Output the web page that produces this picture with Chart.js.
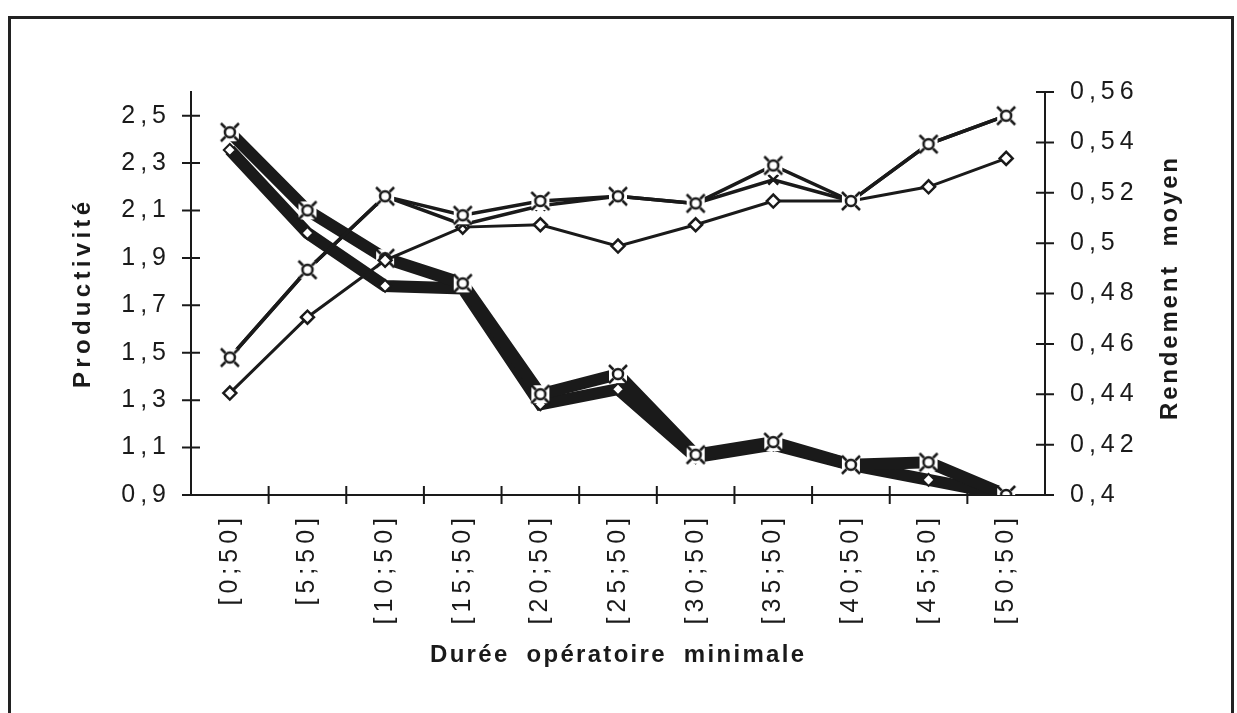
<!DOCTYPE html>
<html lang="fr">
<head>
<meta charset="utf-8">
<title>Productivité et rendement moyen</title>
<script src="https://cdn.jsdelivr.net/npm/chart.js@4.4.1/dist/chart.umd.min.js"></script>
<style>
    html, body { margin: 0; padding: 0; background: #fff; }
    .cadre { position: absolute; left: 8px; top: 16px; width: 1226px; height: 720px; border: 3px solid #222; box-sizing: border-box; }
    canvas { position: absolute; left: 0; top: 0; }
</style>
</head>
<body>
<div class="cadre"></div>
<canvas id="graphique" width="1237" height="713"></canvas>
<script>
// Données
const categories = ['[0;50]', '[5;50]', '[10;50]', '[15;50]', '[20;50]', '[25;50]', '[30;50]', '[35;50]', '[40;50]', '[45;50]', '[50;50]'];

// Productivité (axe de gauche)
const prodCercle  = [1.48, 1.85, 2.16, 2.08, 2.14, 2.16, 2.13, 2.29, 2.14, 2.38, 2.50];
const prodCroix   = [1.48, 1.85, 2.16, 2.04, 2.12, 2.16, 2.13, 2.23, 2.14, 2.38, 2.50];
const prodLosange = [1.33, 1.65, 1.89, 2.03, 2.04, 1.95, 2.04, 2.14, 2.14, 2.20, 2.32];

// Rendement moyen (axe de droite)
const rendCarre   = [0.544, 0.513, 0.494, 0.484, 0.440, 0.448, 0.416, 0.421, 0.412, 0.413, 0.400];
const rendLosange = [0.537, 0.504, 0.483, 0.482, 0.436, 0.442, 0.415, 0.420, 0.412, 0.406, 0.400];

const ticksProductivite = [0.9, 1.1, 1.3, 1.5, 1.7, 1.9, 2.1, 2.3, 2.5];
const ticksRendement = [0.4, 0.42, 0.44, 0.46, 0.48, 0.5, 0.52, 0.54, 0.56];

const noir = '#1a1a1a';
const police = '"Liberation Sans", Arial, Helvetica, sans-serif';

// marqueur "¤" (cercle + croix) sur fond blanc
function creerMarqueur() {
    const c = document.createElement('canvas');
    c.width = 24;
    c.height = 24;
    const g = c.getContext('2d');
    g.fillStyle = '#fff';
    g.fillRect(3, 3, 18, 18);
    g.strokeStyle = noir;
    g.lineWidth = 2.5;
    g.beginPath();
    g.arc(12, 12, 5, 0, Math.PI * 2);
    g.stroke();
    [[1, 1], [1, -1], [-1, 1], [-1, -1]].forEach(([dx, dy]) => {
        g.beginPath();
        g.moveTo(12 + dx * 4.5, 12 + dy * 4.5);
        g.lineTo(12 + dx * 9, 12 + dy * 9);
        g.stroke();
    });
    return c;
}
const marqueur = creerMarqueur();

function virgule(v) {
    return String(v).replace('.', ',');
}

function texteEspace(ctx, texte, x, y, angle, espacement, espaceMots) {
    ctx.save();
    ctx.translate(x, y);
    ctx.rotate(angle);
    ctx.letterSpacing = espacement + 'px';
    ctx.wordSpacing = espaceMots + 'px';
    ctx.textAlign = 'center';
    ctx.textBaseline = 'middle';
    ctx.fillText(texte, espacement / 2, 0);
    ctx.restore();
}

// petits traits qui traversent les axes + titres des axes
const habillage = {
    id: 'habillage',
    beforeDraw(chart) {
        chart.ctx.letterSpacing = '5px';
    },
    beforeDatasetsDraw(chart) {
        const ctx = chart.ctx;
        ctx.letterSpacing = '0px';
        const {x, y, y1} = chart.scales;
        ctx.save();
        ctx.strokeStyle = noir;
        ctx.lineWidth = 2;
        ctx.beginPath();
        y.ticks.forEach(t => {
            const py = y.getPixelForValue(t.value);
            ctx.moveTo(y.right - 9, py);
            ctx.lineTo(y.right + 9, py);
        });
        y1.ticks.forEach(t => {
            const py = y1.getPixelForValue(t.value);
            ctx.moveTo(y1.left - 9, py);
            ctx.lineTo(y1.left + 9, py);
        });
        const pas = (x.right - x.left) / categories.length;
        for (let i = 1; i < categories.length; i++) {
            const px = x.left + i * pas;
            ctx.moveTo(px, x.top - 9);
            ctx.lineTo(px, x.top + 9);
        }
        ctx.stroke();
        ctx.restore();
    },
    afterDraw(chart) {
        const ctx = chart.ctx;
        ctx.save();
        ctx.fillStyle = noir;
        ctx.font = 'bold 24px ' + police;
        texteEspace(ctx, 'Productivité', 83, 295, -Math.PI / 2, 4.3, 0);
        texteEspace(ctx, 'Rendement moyen', 1170, 289, -Math.PI / 2, 2.8, 8);
        texteEspace(ctx, 'Durée opératoire minimale', 617, 655, 0, 2.3, 8);
        ctx.restore();
    }
};

Chart.defaults.font.family = police;
Chart.defaults.font.size = 25;
Chart.defaults.color = noir;

const ctx = document.getElementById('graphique').getContext('2d');
const graphique = new Chart(ctx, {
    type: 'line',
    data: {
        labels: categories,
        datasets: [
            {
                label: 'Productivité (cercle)',
                data: prodCercle,
                yAxisID: 'y',
                order: 1,
                borderColor: noir,
                borderWidth: 3.5,
                pointStyle: marqueur,
                pointRadius: 9
            },
            {
                label: 'Productivité (croix)',
                data: prodCroix,
                yAxisID: 'y',
                order: 1,
                borderColor: noir,
                borderWidth: 3.5,
                pointStyle: 'crossRot',
                pointRadius: 7,
                pointBorderColor: noir,
                pointBorderWidth: 2.5
            },
            {
                label: 'Productivité (losange)',
                data: prodLosange,
                yAxisID: 'y',
                order: 1,
                borderColor: noir,
                borderWidth: 3,
                pointStyle: 'rectRot',
                pointRadius: 6.5,
                pointBackgroundColor: '#fff',
                pointBorderColor: noir,
                pointBorderWidth: 2.5
            },
            {
                label: 'Rendement moyen (carré)',
                data: rendCarre,
                yAxisID: 'y1',
                order: 2,
                borderColor: noir,
                borderWidth: 12,
                borderJoinStyle: 'miter',
                pointStyle: marqueur,
                pointRadius: 9
            },
            {
                label: 'Rendement moyen (losange)',
                data: rendLosange,
                yAxisID: 'y1',
                order: 2,
                borderColor: noir,
                borderWidth: 12,
                borderJoinStyle: 'miter',
                pointStyle: 'rectRot',
                pointRadius: 6,
                pointBackgroundColor: '#fff',
                pointBorderColor: noir,
                pointBorderWidth: 2
            }
        ]
    },
    options: {
        responsive: false,
        animation: false,
        devicePixelRatio: 1,
        layout: { padding: { top: 92, left: 0, right: 0, bottom: 0 } },
        plugins: {
            legend: { display: false },
            tooltip: { enabled: false }
        },
        elements: { line: { tension: 0 } },
        scales: {
            x: {
                offset: true,
                grid: { display: true, drawOnChartArea: false, drawTicks: false, offset: true },
                border: { display: true, color: noir, width: 2 },
                ticks: { autoSkip: false, minRotation: 90, maxRotation: 90, padding: 18 },
                afterFit(scale) { scale.height = 218; }
            },
            y: {
                position: 'left',
                min: 0.9,
                max: 2.6,
                grid: { display: true, drawOnChartArea: false, drawTicks: false },
                border: { display: true, color: noir, width: 2 },
                ticks: { padding: 20, callback: v => virgule(v) },
                afterBuildTicks(scale) { scale.ticks = ticksProductivite.map(v => ({ value: v })); },
                afterFit(scale) { scale.width = 191; }
            },
            y1: {
                position: 'right',
                min: 0.4,
                max: 0.56,
                grid: { display: true, drawOnChartArea: false, drawTicks: false },
                border: { display: true, color: noir, width: 2 },
                ticks: { padding: 25, callback: v => virgule(v) },
                afterBuildTicks(scale) { scale.ticks = ticksRendement.map(v => ({ value: v })); },
                afterFit(scale) { scale.width = 192; }
            }
        }
    },
    plugins: [habillage]
});
</script>
</body>
</html>
